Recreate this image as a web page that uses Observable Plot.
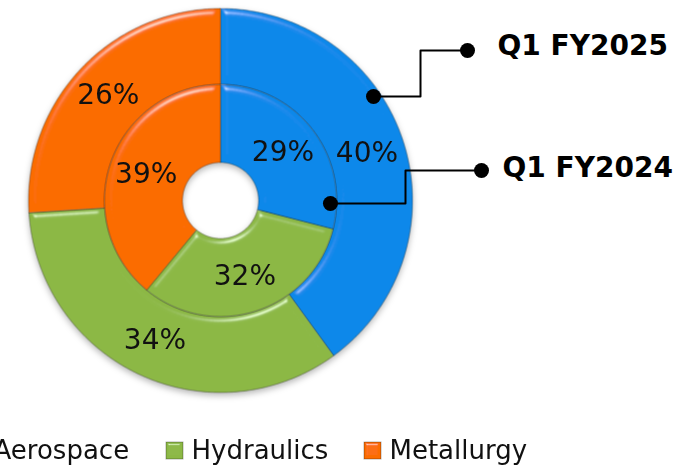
<!DOCTYPE html>
<html><head><meta charset="utf-8">
<script src="https://cdn.jsdelivr.net/npm/d3@7"></script>
<script src="https://cdn.jsdelivr.net/npm/@observablehq/plot@0.6"></script>
<style>
body{margin:0;background:#fff;overflow:hidden;}
#chart svg{display:block;}
.seg{filter:drop-shadow(0px 3px 3px rgba(0,0,0,0.28));}
.seg path{filter:url(#bevel);}
.sw rect{filter:url(#bevel2);}
</style></head><body><div id="chart"></div>
<script>
// ---- data ----
const categories = ["Aerospace", "Hydraulics", "Metallurgy"];
const colors = ["#0a88ea", "#8cb845", "#fb6c05"];
const periods = ["Q1 FY2025", "Q1 FY2024"];
const fy2025 = [40, 34, 26];
const fy2024 = [29, 32, 39];

// ---- layout ----
const W = 700, H = 465, cx = 220, cy = 200;
const rings = [
  {period: periods[0], values: fy2025, r0: 116, r1: 192, labelR: 154},
  {period: periods[1], values: fy2024, r0: 38, r1: 116, labelR: 79}
];
const polar = (a, r) => ({x: cx + r * Math.sin(a), y: cy - r * Math.cos(a)});

const pie = d3.pie().sort(null).value(d => d.v);
const segPts = [], labels = [];
rings.forEach((ring) => {
  const arcs = pie(ring.values.map((v, i) => ({v, cat: categories[i]})));
  arcs.forEach((a) => {
    const key = ring.period + "|" + a.data.cat;
    const n = Math.max(2, Math.ceil((a.endAngle - a.startAngle) / 0.01));
    for (let k = 0; k <= n; k++) {
      const t = a.startAngle + (a.endAngle - a.startAngle) * k / n;
      segPts.push({key, cat: a.data.cat, ...polar(t, ring.r1)});
    }
    for (let k = n; k >= 0; k--) {
      const t = a.startAngle + (a.endAngle - a.startAngle) * k / n;
      segPts.push({key, cat: a.data.cat, ...polar(t, ring.r0)});
    }
    const mid = (a.startAngle + a.endAngle) / 2;
    labels.push({text: a.data.v + "%", ...polar(mid, ring.labelR)});
  });
});

// callouts (period label leaders)
const deg = Math.PI / 180;
const a1 = polar(55.8 * deg, 185), a2 = polar(91.6 * deg, 110);
const callouts = [
  {period: periods[0], anchor: a1, elbowX: 420, endX: 467, endY: 50, textX: 497, textY: 46},
  {period: periods[1], anchor: a2, elbowX: 405, endX: 481, endY: 170, textX: 502, textY: 168}
];
const leaderPts = [], leaderDots = [], leaderText = [];
callouts.forEach(c => {
  leaderPts.push({z: c.period, x: c.anchor.x, y: c.anchor.y});
  leaderPts.push({z: c.period, x: c.elbowX, y: c.anchor.y});
  leaderPts.push({z: c.period, x: c.elbowX, y: c.endY});
  leaderPts.push({z: c.period, x: c.endX, y: c.endY});
  leaderDots.push({x: c.anchor.x, y: c.anchor.y});
  leaderDots.push({x: c.endX, y: c.endY});
  leaderText.push({text: c.period, x: c.textX, y: c.textY});
});

// legend
const legendX = [-32, 166, 364];
const legend = categories.map((cat, i) => ({cat, x: legendX[i]}));

const svg = Plot.plot({
  width: W, height: H, margin: 0,
  x: {type: "identity", axis: null},
  y: {type: "identity", axis: null},
  color: {domain: categories, range: colors},
  style: {fontFamily: "DejaVu Sans", background: "#fff", color: "#111"},
  marks: [
    Plot.line(segPts, {x: "x", y: "y", z: "key", fill: "cat", stroke: "rgba(0,0,0,0.3)", strokeWidth: 1, curve: "linear-closed", className: "seg"}),
    Plot.text(labels, {x: "x", y: "y", text: "text", fontSize: 28, fill: "#111"}),
    Plot.line(leaderPts, {x: "x", y: "y", z: "z", stroke: "#000", strokeWidth: 2}),
    Plot.dot(leaderDots, {x: "x", y: "y", r: 7.5, fill: "#000"}),
    Plot.text(leaderText, {x: "x", y: "y", text: "text", textAnchor: "start", fontSize: 28, fontWeight: "bold", fill: "#000"}),
    Plot.rect(legend, {x1: "x", x2: d => d.x + 17, y1: 442, y2: 459, fill: "cat", stroke: "rgba(0,0,0,0.3)", className: "sw"}),
    Plot.text(legend, {x: d => d.x + 25, y: 450, text: "cat", textAnchor: "start", fontSize: 26, fill: "#111"})
  ]
});

d3.select(svg).insert("defs", ":first-child").html(`
<filter id="bevel" x="-10%" y="-10%" width="120%" height="120%">
  <feGaussianBlur in="SourceAlpha" stdDeviation="3" result="blur"/>
  <feSpecularLighting in="blur" surfaceScale="4" specularConstant="0.5" specularExponent="60" lighting-color="#ffffff" result="spec">
    <feDistantLight azimuth="250" elevation="40"/>
  </feSpecularLighting>
  <feComposite in="spec" in2="SourceAlpha" operator="in" result="specOut"/>
  <feComposite in="SourceGraphic" in2="specOut" operator="arithmetic" k1="0" k2="1" k3="1" k4="0"/>
</filter>
<filter id="bevel2" x="-20%" y="-20%" width="140%" height="140%">
  <feGaussianBlur in="SourceAlpha" stdDeviation="1.5" result="blur"/>
  <feSpecularLighting in="blur" surfaceScale="3" specularConstant="0.5" specularExponent="40" lighting-color="#ffffff" result="spec">
    <feDistantLight azimuth="250" elevation="40"/>
  </feSpecularLighting>
  <feComposite in="spec" in2="SourceAlpha" operator="in" result="specOut"/>
  <feComposite in="SourceGraphic" in2="specOut" operator="arithmetic" k1="0" k2="1" k3="1" k4="0"/>
</filter>`);

document.getElementById("chart").appendChild(svg);
</script>
</body></html>
